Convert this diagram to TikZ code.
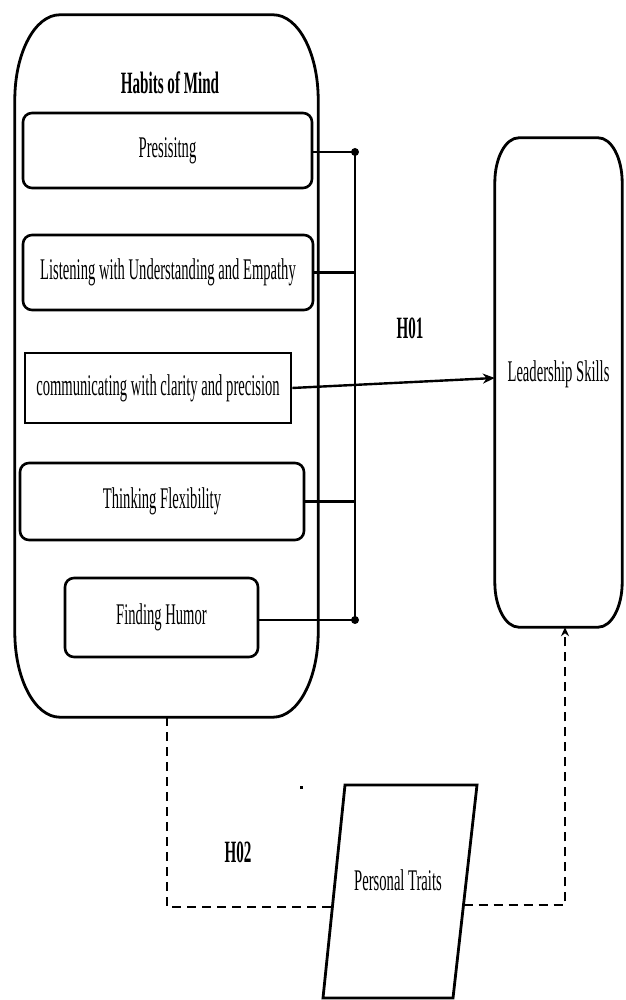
\documentclass[tikz,border=0pt]{standalone}
\usepackage{fontspec}
\setmainfont[FakeStretch=0.487]{Liberation Serif}
\usetikzlibrary{arrows.meta}
\newcommand\ellbox[4][]{%
  \draw[outline,#1] ([xshift=#3]#2.north west) -- ([xshift=-#3]#2.north east)
    arc[start angle=90,end angle=0,x radius=#3,y radius=#4]
    -- ([yshift=#4]#2.south east)
    arc[start angle=0,end angle=-90,x radius=#3,y radius=#4]
    -- ([xshift=#3]#2.south west)
    arc[start angle=-90,end angle=-180,x radius=#3,y radius=#4]
    -- ([yshift=-#4]#2.north west)
    arc[start angle=180,end angle=90,x radius=#3,y radius=#4] -- cycle;}
\begin{document}
\begin{tikzpicture}[x=1pt,y=1pt,
  txt/.style={font=\fontsize{30}{34}\selectfont, inner sep=0pt},
  htxt/.style={font=\fontsize{31}{34}\selectfont\bfseries, inner sep=0pt},
  outline/.style={line width=2.8pt, line join=round},
  hbox/.style={draw, line width=2.6pt, rounded corners=9pt, inner sep=0pt,
    font=\fontsize{30}{34}\selectfont},
  sbox/.style={hbox, rounded corners=0pt},
  conn/.style={line width=2.4pt},
  dconn/.style={line width=2.2pt, dash pattern=on 9pt off 6pt},
]
\useasboundingbox (0,0) rectangle (625,1000);

% Habits of Mind container
\node[inner sep=0pt, minimum width=303pt, minimum height=702pt] (hom) at (166.5,634) {};
\ellbox{hom}{45}{85}
\node[htxt] (homt) at (170,917) {Habits of Mind};

% inner boxes
\node[hbox, minimum width=289pt, minimum height=75pt] (b1) at (167.5,849.5) {Presisitng};
\node[hbox, minimum width=290pt, minimum height=75pt] (b2) at (168,727.5) {Listening with Understanding and Empathy};
\node[sbox, minimum width=266pt, minimum height=70pt] (b3) at (158,612) {communicating with clarity and precision};
\node[hbox, minimum width=284pt, minimum height=77pt] (b4) at (162,498.5) {Thinking Flexibility};
\node[hbox, minimum width=193pt, minimum height=79pt] (b5) at (161.5,382.5) {Finding Humor};

% Leadership Skills
\node[txt, minimum width=127pt, minimum height=489pt, text depth=22pt] (ls) at (558.5,617.5) {Leadership Skills};
\ellbox{ls}{24}{45}

% bracket
\coordinate (bt) at (355,848);
\coordinate (bb) at (355,380);
\draw[conn] (bt) -- (bb);
\draw[conn] (b1.east |- bt) -- (bt);
\draw[conn] (b2.east) -- (b2.east -| bt);
\draw[conn] (b4.east) -- (b4.east -| bt);
\draw[conn] (b5.east |- bb) -- (bb);
\fill (bt) circle (4);
\fill (bb) circle (4);

% H01 arrow
\draw[conn, -{Stealth[length=12pt,width=10pt]}] (b3.east) -- ([yshift=4.5pt]ls.west);
\node[htxt] (h01) at (410,672) {H01};

% Personal Traits parallelogram
\coordinate (p1) at (323,2);
\coordinate (p2) at (453,2);
\coordinate (p3) at (477,215);
\coordinate (p4) at (345,215);
\draw[outline, line join=miter] (p1) -- (p2) -- (p3) -- (p4) -- cycle;
\node[txt] (pt) at (398,120) {Personal Traits};

% H02 dashed path
\coordinate (dl) at (332.4,93);
\coordinate (dr) at (463.5,95);
\draw[dconn] (hom.south -| 167,0) -- (167,93) -- (dl);
\draw[dconn, -{Stealth[length=9pt,width=8pt]}] (dr) -- (565,95) -- (ls.south -| 565,0);
\node[htxt] (h02) at (238,148) {H02};

% stray mark
\fill (300,211) rectangle (303,213.5);
\end{tikzpicture}
\end{document}
